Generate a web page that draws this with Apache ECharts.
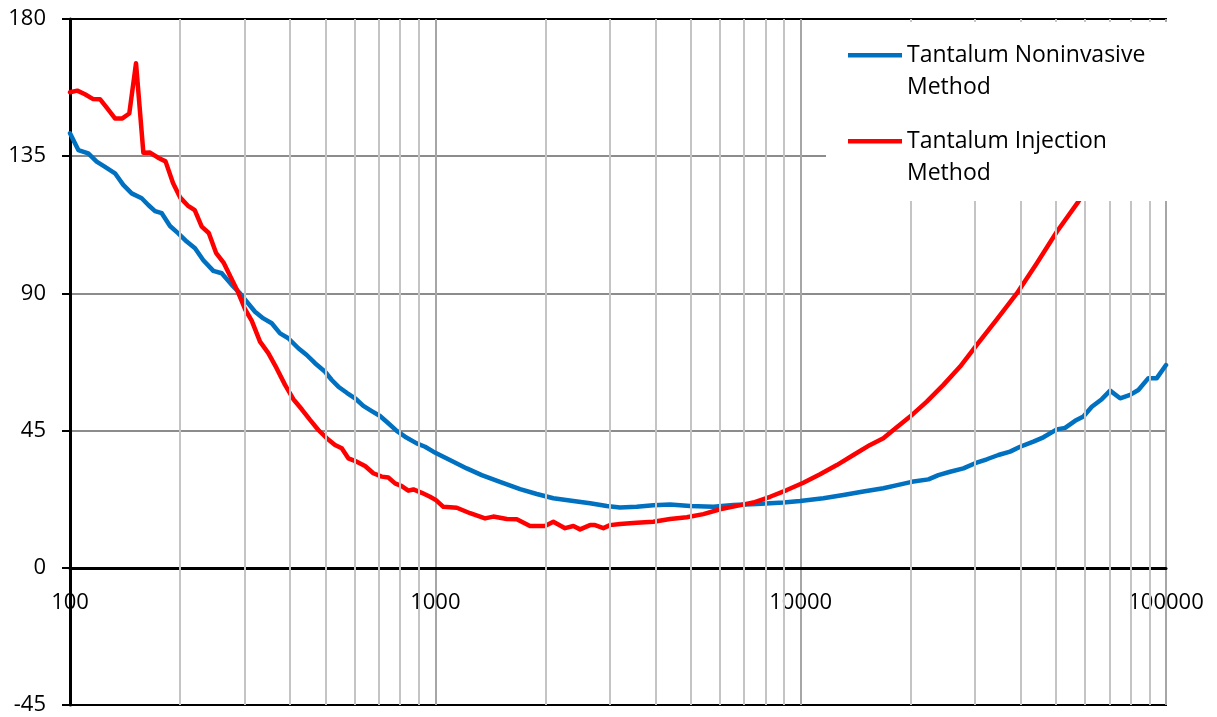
<!DOCTYPE html>
<html>
<head>
<meta charset="utf-8">
<script src="https://cdn.jsdelivr.net/npm/echarts@6/dist/echarts.min.js"></script>
<style>
html,body{margin:0;padding:0;background:#fff;}
#chart{width:1217px;height:717px;}
</style>
</head>
<body>
<div id="chart"></div>
<script>
var seriesNames = ['Tantalum Noninvasive Method', 'Tantalum Injection Method'];

var blueFreq = [100,105.4,112.2,118.3,124.7,132.8,139.9,147.5,157.1,163.8,170.9,178.3,187.8,197.9,208.7,219.9,231.7,246.8,260.2,277.1,292.1,304.6,321,338.2,356.6,375.8,395.9,421.7,444.6,468.5,499.1,520.6,542.7,572.2,602.9,635.3,669.8,705.7,743.6,784,826.2,889.4,937.4,987.5,1085.5,1120.3,1219,1339.6,1503,1706,1895,2104,2387,2651,2945,3203,3558,3952,4391,4981,5768,6543,7583,8968,9963,11540,13090,14850,16840,18510,20140,22370,23820,25650,27890,30030,32330,34770,37430,39870,43350,46170,50250,52940,56380,59420,62650,66710,70310,74880,79750,84030,89480,94370,100000];
var blueVal = [142.5,137,135.9,133.2,131.5,129.4,125.6,122.8,121.2,119,117,116.3,112.1,109.7,107,104.8,100.9,97.4,96.6,92.8,90,87.3,84,81.8,80.2,76.9,75.3,72,69.8,67.1,64.3,61.6,59.4,57.4,55.6,53.1,51.4,49.8,47.4,44.9,43,40.8,39.7,38.1,35.6,34.8,32.6,30.4,28.2,25.8,24.2,22.8,21.9,21.2,20.3,19.8,20,20.5,20.8,20.3,20,20.6,20.9,21.4,21.9,22.8,23.9,25,26.1,27.2,28.2,29,30.4,31.5,32.6,34.3,35.6,37,38.1,39.7,41.4,42.8,45.4,45.9,48.2,49.6,52.8,55.3,58.1,55.6,56.7,58.3,62.2,62.2,66.5];

var redFreq = [100,104.7,109.9,115.4,120.8,126.5,132.8,139.1,145.3,151.6,158.8,165.6,174.2,182.6,191.4,200.1,210,219.5,229.4,239.8,251,263.2,275,287.4,301.4,314.5,331.2,349,368,387.8,408.7,430.9,454,478.4,504.4,531.4,554.4,577.9,609.4,642.2,676.6,713.4,743.6,775.8,809.2,843.6,870.7,918,967.2,1004,1052,1145,1245,1368,1441,1569,1671,1816,1996,2104,2265,2387,2490,2651,2736,2884,3008,3203,3558,3952,4391,4878,5416,6017,6686,7421,8245,9162,10170,11300,12560,13940,15490,16840,17940,19930,22140,24590,27320,30350,34430,39050,44300,50250,57570,66000,79750,100000];
var redVal = [156,156.5,155.3,153.8,153.7,150.7,147.4,147.4,149,165.5,136.1,136.2,134.5,133.3,126.2,121.5,118.8,117.3,111.9,109.8,103.3,100.1,95.5,90.8,84.8,81,74.2,70.4,65.4,60,55.3,52,48.5,45.2,42.5,40.3,39.2,35.9,34.8,33.4,31,29.9,29.6,27.7,26.8,25.3,25.7,24.6,23.3,22.2,20,19.7,17.9,16.2,16.8,16,15.9,13.7,13.7,15.1,13,13.7,12.6,14,14,13,14,14.4,14.8,15.1,16,16.6,17.6,19.2,20.3,21.4,23.3,25.5,27.9,30.7,33.7,37,40.3,42.5,45.2,49.6,54.5,60,66,73.1,81.5,90,99.9,110.2,120.1,131,147,168];

var xMin = 100, xMax = 100000;
var yMin = -45, yMax = 180, yStep = 45;
var minorGridFreqs = [200,300,400,500,600,700,800,900,2000,3000,4000,5000,6000,7000,8000,9000,20000,30000,40000,50000,60000,70000,80000,90000];

function zip(a, b) { var out = []; for (var i = 0; i < a.length; i++) out.push([a[i], b[i]]); return out; }

var FONT = '"Open Sans", "Liberation Sans", sans-serif';
var chart = echarts.init(document.getElementById('chart'), null, {renderer: 'canvas'});

var option = {
  animation: false,
  backgroundColor: '#fff',
  grid: {left: 70, right: 51, top: 19, bottom: 12, outerBoundsMode: 'none', containLabel: false,
         show: true, borderColor: '#000', borderWidth: 2, backgroundColor: 'transparent'},
  legend: {
    data: seriesNames,
    orient: 'vertical',
    left: 826,
    top: 22,
    padding: [17, 28, 12, 22],
    itemGap: 22,
    itemWidth: 54,
    itemHeight: 64,
    symbolKeepAspect: false,
    icon: 'path://M0,14L54,14L54,18.5L0,18.5Z M0,0L0.01,0L0.01,0.01Z M0,64L0.01,64L0.01,63.99Z',
    itemStyle: {borderWidth: 0},
    backgroundColor: '#fff',
    selectedMode: false,
    z: 10,
    formatter: function (n) { return n.replace(' Method', '\nMethod'); },
    textStyle: {fontFamily: FONT, fontSize: 23, lineHeight: 32, color: '#000'}
  },
  xAxis: {
    type: 'log', logBase: 10, min: xMin, max: xMax,
    offset: -137,
    axisLine: {onZero: false, lineStyle: {color: '#000', width: 3}},
    axisTick: {show: false},
    axisLabel: {fontFamily: FONT, fontSize: 22, color: '#000', margin: 24,
      formatter: function (v) { return String(Math.round(v)); }},
    splitLine: {show: true, lineStyle: {color: '#a6a6a6', width: 2}},
    minorTick: {show: false},
    minorSplitLine: {show: false}
  },
  yAxis: {
    type: 'value', min: yMin, max: yMax, interval: yStep,
    axisLine: {show: true, onZero: false, lineStyle: {color: '#000', width: 3}},
    axisTick: {show: true, inside: false, length: 8, lineStyle: {color: '#000', width: 2}},
    axisLabel: {fontFamily: FONT, fontSize: 22, color: '#000', margin: 24},
    splitLine: {show: true, showMinLine: false, showMaxLine: false, lineStyle: {color: '#8c8c8c', width: 2}}
  },
  series: [
    {
      name: 'minor-grid', type: 'line', data: [], z: 1, silent: true,
      markLine: {
        silent: true, symbol: ['none', 'none'], animation: false,
        label: {show: false},
        lineStyle: {color: '#c4c4c4', width: 2, type: 'solid'},
        emphasis: {disabled: true},
        data: minorGridFreqs.map(function (f) { return {xAxis: f}; })
      }
    },
    {
      name: seriesNames[0], type: 'line', data: zip(blueFreq, blueVal),
      showSymbol: false, symbol: 'none', z: 3, clip: true,
      color: '#0070C0',
      lineStyle: {color: '#0070C0', width: 4.5, join: 'round', cap: 'round'}
    },
    {
      name: seriesNames[1], type: 'line', data: zip(redFreq, redVal),
      showSymbol: false, symbol: 'none', z: 3, clip: true,
      color: '#FF0000',
      lineStyle: {color: '#FF0000', width: 4.5, join: 'round', cap: 'round'}
    }
  ]
};
chart.setOption(option);
</script>
</body>
</html>
